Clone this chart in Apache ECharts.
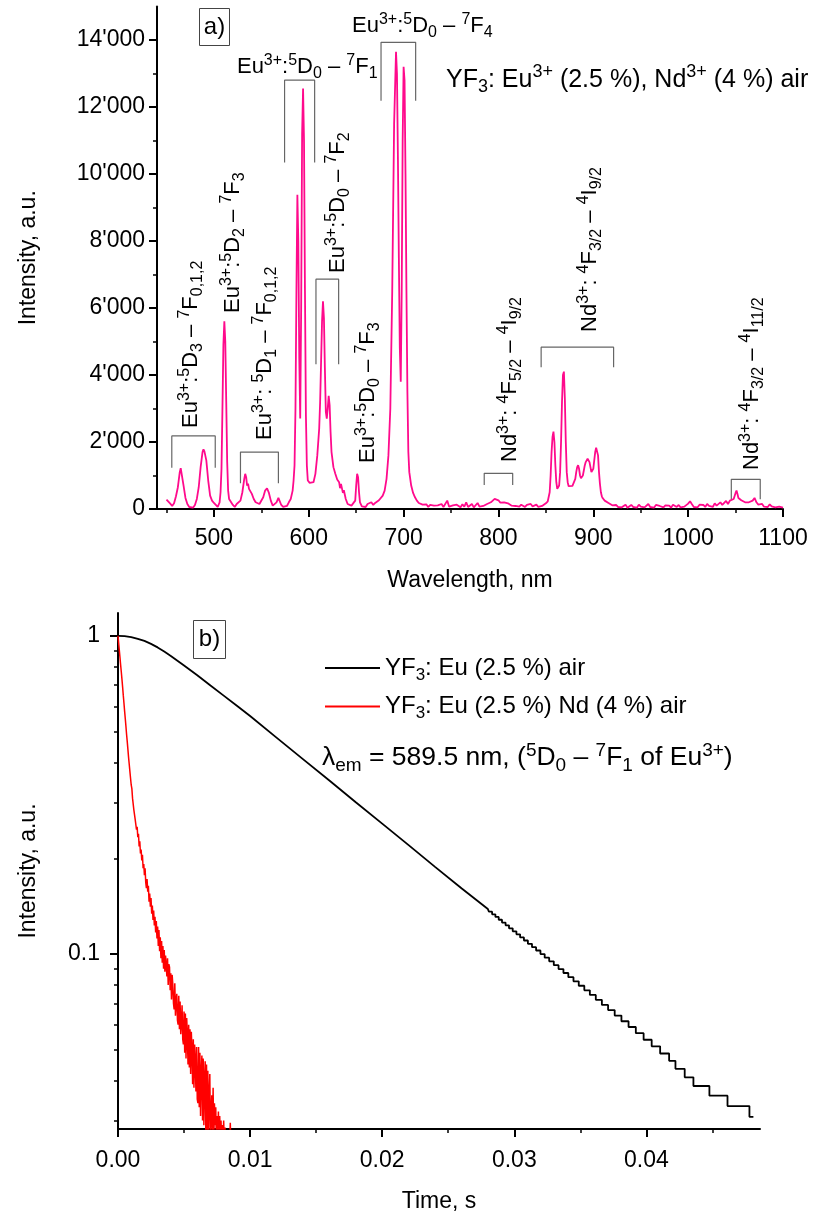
<!DOCTYPE html>
<html>
<head>
<meta charset="utf-8">
<script src="https://cdn.jsdelivr.net/npm/echarts@6/dist/echarts.min.js"></script>
<style>
  html, body { margin: 0; padding: 0; background: #fff; }
  #chart { width: 829px; height: 1219px; }
</style>
</head>
<body>
<div id="chart"></div>
<script>
// ---------- a) emission spectrum: [wavelength nm, intensity a.u.] ----------
const spectrum = [
  [450,280],[452,250],[454,160],[456,90],[458,170],[460,380],[462,650],[464,1100],[465,1220],[466,1170],
  [468,700],[470,330],[472,150],[474,60],[476,90],[478,40],[480,120],[482,300],[484,650],[486,1250],
  [488,1700],[489,1780],[490,1720],[492,1450],[494,850],[496,400],[498,250],[500,180],[502,120],[504,60],
  [505,90],[506,200],[507,500],[508,1200],[509,3000],[510,4900],[511,5600],[512,5000],[513,3200],[514,1400],
  [515,550],[516,300],[518,250],[520,120],[522,60],[524,150],[526,100],[528,250],[530,500],[532,900],
  [533,1050],[534,950],[535,700],[536,760],[537,600],[538,640],[540,450],[542,300],[544,200],[546,250],
  [548,150],[550,200],[552,350],[554,550],[556,620],[558,480],[560,250],[562,100],[564,80],[566,200],
  [568,330],[569,280],[571,120],[573,60],[575,110],[577,90],[579,200],[581,300],[583,550],[584,850],
  [585,1300],[586,3000],[587,6500],[588,9380],[589,8000],[590,4500],[591,2700],[592,6000],[593,11200],[594,12550],
  [595,11000],[596,6500],[597,2800],[598,1300],[599,850],[601,780],[603,760],[605,800],[607,1050],[609,1600],
  [611,2400],[612,3200],[613,4400],[614,5600],[615,6200],[616,5700],[617,4200],[618,2900],[619,2700],[620,3000],
  [621,3380],[622,3100],[623,2300],[624,1700],[626,1250],[628,1050],[630,880],[632,800],[633,620],[634,750],
  [636,480],[637,560],[639,300],[641,150],[643,180],[645,100],[647,80],[649,250],[650,700],[651,1050],
  [652,950],[653,500],[654,200],[656,80],[658,120],[660,60],[662,150],[664,100],[666,200],[668,120],
  [670,180],[672,220],[674,260],[676,300],[678,400],[680,550],[682,900],[684,1600],[686,3000],[688,6500],
  [690,11500],[692,13650],[693,13000],[694,10500],[695,7500],[696,4800],[697,3800],[698,6500],[699,11000],[700,13200],
  [701,12800],[702,10000],[703,6500],[704,3500],[705,1700],[706,1100],[708,700],[710,480],[712,350],[714,250],
  [716,180],[718,220],[720,130],[722,90],[724,140],[726,60],[728,120],[730,80],[732,100],[734,50],
  [736,110],[738,70],[740,150],[742,60],[744,90],[746,250],[748,70],[750,40],[752,110],[754,60],
  [756,130],[758,80],[760,50],[762,140],[764,70],[766,200],[768,60],[770,100],[772,150],[774,50],
  [776,90],[778,180],[780,70],[782,110],[784,90],[786,60],[788,150],[790,130],[792,200],[794,250],
  [796,300],[798,320],[800,260],[802,190],[804,230],[806,200],[808,150],[810,170],[812,120],[814,100],
  [816,140],[818,90],[820,110],[822,70],[824,130],[826,100],[828,60],[830,120],[832,90],[834,150],
  [836,80],[838,100],[840,130],[842,60],[844,110],[846,90],[848,140],[850,170],[852,230],[854,500],
  [855,1000],[856,1700],[857,2150],[858,2310],[859,2000],[860,1300],[861,800],[862,600],[863,580],[864,700],
  [865,1100],[866,2000],[867,3200],[868,4000],[869,4100],[870,3300],[871,2000],[872,1100],[873,800],[874,680],
  [876,660],[878,690],[880,720],[881,900],[882,1100],[883,1250],[884,1310],[885,1200],[886,1000],[887,920],
  [888,910],[889,1000],[890,1150],[891,1300],[892,1400],[893,1450],[894,1500],[895,1510],[896,1400],[897,1250],
  [898,1100],[899,1080],[900,1200],[901,1450],[902,1700],[903,1830],[904,1860],[905,1600],[906,1100],[907,750],
  [908,500],[909,380],[910,320],[912,250],[914,210],[916,180],[918,170],[920,110],[922,80],[924,120],
  [926,60],[928,100],[930,50],[932,90],[934,130],[936,40],[938,80],[940,120],[942,60],[944,100],
  [946,40],[948,130],[950,70],[952,110],[954,50],[956,90],[958,150],[960,60],[962,100],[964,40],
  [966,120],[968,70],[970,90],[972,140],[974,50],[976,110],[978,60],[980,100],[982,40],[984,130],
  [986,80],[988,60],[990,120],[992,50],[994,90],[996,70],[998,110],[1000,160],[1002,230],[1004,140],
  [1006,60],[1008,100],[1010,50],[1012,130],[1014,80],[1016,120],[1018,60],[1020,150],[1022,90],[1024,110],
  [1026,60],[1028,170],[1030,100],[1032,140],[1034,200],[1036,120],[1038,180],[1040,240],[1042,150],[1044,250],
  [1046,200],[1048,300],[1050,480],[1051,550],[1052,450],[1053,330],[1054,280],[1056,260],[1058,230],[1060,200],
  [1062,240],[1064,200],[1066,230],[1068,250],[1070,330],[1071,320],[1072,200],[1074,130],[1076,90],[1078,150],
  [1080,70],[1082,110],[1084,60],[1086,140],[1088,80],[1090,120],[1092,50],[1094,100],[1096,70],[1098,90],
  [1100,40]
];

// transition bands: [from nm, to nm, bracket foot, bracket top] in data units
const bandRanges = [
  [455.6, 501.4, 1230, 2180],
  [528.0, 568.0, 770, 1700],
  [574.5, 606.2, 10340, 12800],
  [607.6, 631.5, 4320, 6860],
  [676.2, 712.7, 12190, 13930],
  [785.0, 815.0, 720, 1065],
  [845.0, 921.4, 4230, 4830],
  [1045.5, 1076.0, 290, 885]
];

const bandLabels = [
  'Eu^{3+}:^{5}D_{3} – ^{7}F_{0,1,2}',
  'Eu^{3+}:^{5}D_{2} – ^{7}F_{3}',
  'Eu^{3+}: ^{5}D_{1} – ^{7}F_{0,1,2}',
  'Eu^{3+}:^{5}D_{0} – ^{7}F_{2}',
  'Eu^{3+}:^{5}D_{0} – ^{7}F_{3}',
  'Eu^{3+}:^{5}D_{0} – ^{7}F_{1}',
  'Eu^{3+}:^{5}D_{0} – ^{7}F_{4}',
  'Nd^{3+}: ^{4}F_{5/2} – ^{4}I_{9/2}',
  'Nd^{3+}: ^{4}F_{3/2} – ^{4}I_{9/2}',
  'Nd^{3+}: ^{4}F_{3/2} – ^{4}I_{11/2}'
];

const wavelengthTicks = [500, 600, 700, 800, 900, 1000, 1100];
const wavelengthMinor = [450, 550, 650, 750, 850, 950, 1050];
const intensityTicks = [0, 2000, 4000, 6000, 8000, 10000, 12000, 14000];
const intensityMinor = [1000, 3000, 5000, 7000, 9000, 11000, 13000];

// ---------- b) luminescence decay ----------
const euDecayT = [0, 0.0005, 0.001, 0.0015, 0.002, 0.0025, 0.003, 0.0035, 0.004, 0.005,
                  0.006, 0.007, 0.008, 0.009, 0.010, 0.012, 0.014, 0.016, 0.018, 0.020,
                  0.022, 0.024, 0.026];
const euDecayV = [1.0, 0.998, 0.991, 0.979, 0.964, 0.944, 0.920, 0.893, 0.865, 0.807,
                  0.752, 0.698, 0.649, 0.603, 0.560, 0.479, 0.410, 0.351, 0.300, 0.257,
                  0.220, 0.188, 0.161];
// digitised tail: count levels and the times at which each level ends
const euTailStart = 0.028;
const euTailLevels = [0.1385,0.1359,0.1333,0.1308,0.1282,0.1256,0.1231,0.1205,0.1179,0.1154,
                      0.1128,0.1103,0.1077,0.1051,0.1026,0.1000,0.0974,0.0949,0.0923,0.0897,
                      0.0872,0.0846,0.0821,0.0795,0.0769,0.0744,0.0718,0.0692,0.0667,0.0641,
                      0.0615,0.0590,0.0564,0.0538,0.0513,0.0487,0.0462,0.0436,0.0410,0.0385,
                      0.0359,0.0333,0.0308];
const euTailEnds = [0.02808,0.02832,0.02857,0.02882,0.02907,0.02934,0.0296,0.02988,0.03016,0.03044,
                    0.03073,0.03103,0.03134,0.03165,0.03198,0.0323,0.03264,0.03299,0.03335,0.03372,
                    0.03409,0.03448,0.03488,0.0353,0.03572,0.03617,0.03663,0.0371,0.0376,0.03811,
                    0.03865,0.0392,0.03979,0.0404,0.04104,0.04172,0.0422,0.0429,0.04356,0.04477,
                    0.04614,0.0478,0.0481];

const ndSampleStep = 0.00005;
const ndDecayV = [
  1.0,0.95,0.90,0.855,0.81,0.77,0.73,0.69,0.65,0.615,0.58,0.55,0.52,0.49,0.465,0.44,0.415,0.395,0.375,0.357,0.34,
  0.331,0.309,0.306,0.284,0.287,0.265,0.266,0.246,0.251,0.233,0.239,0.218,0.226,0.207,0.213,0.197,0.205,0.186,0.192,0.177,
  0.186,0.168,0.161,0.172,0.157,0.164,0.146,0.155,0.141,0.150,0.134,0.142,0.128,0.137,0.123,0.131,0.117,0.127,0.112,0.122,
  0.106,0.119,0.102,0.113,0.097,0.110,0.094,0.106,0.090,0.103,0.088,0.099,0.092,0.085,0.097,0.080,0.093,0.091,0.077,0.087,
  0.072,0.086,0.080,0.070,0.067,0.081,0.064,0.071,0.075,0.062,0.060,0.074,0.058,0.071,0.056,0.061,0.069,0.054,0.052,0.066,
  0.049,0.065,0.047,0.063,0.056,0.045,0.060,0.044,0.058,0.042,0.057,0.050,0.039,0.054,0.038,0.052,0.046,0.037,0.051,0.035,
  0.034,0.051,0.033,0.049,0.031,0.042,0.048,0.030,0.047,0.029,0.040,0.046,0.027,0.045,0.028,0.043,0.026,0.036,0.042,0.027,
  0.027,0.036,0.026,0.038,0.025,0.034,0.029,0.033,0.025,0.031,0.026,0.032,0.025,0.031,0.026,0.030,0.025,0.029,0.025,0.030,
  0.025,0.0285,0.025,0.027,0.025,0.026,0.025,0.0265,0.025,0.0295,0.025
];

const timeTicks = [0, 0.01, 0.02, 0.03, 0.04];
const timeMinor = [0.005, 0.015, 0.025, 0.035, 0.045];
const decayTicks = [0.1, 1];
const decayMinor = [0.03, 0.04, 0.05, 0.06, 0.07, 0.08, 0.09, 0.2, 0.3, 0.4, 0.5, 0.6, 0.7, 0.8, 0.9];

const seriesNames = ['YF_{3}: Eu (2.5 %) air', 'YF_{3}: Eu (2.5 %) Nd (4 %) air'];
const panelTags = ['a)', 'b)'];
const sampleLabel = 'YF_{3}: Eu^{3+} (2.5 %), Nd^{3+} (4 %) air';
const probeLabel = 'λ_{em} = 589.5 nm, (^{5}D_{0} – ^{7}F_{1} of Eu^{3+})';

// ---------- drawing ----------
const FONT = '"Liberation Sans", Arial, Helvetica, sans-serif';
const PINK = '#ff0a8c';

// "^{..}" -> superscript, "_{..}" -> subscript, rest normal
function rich(markup) {
  let out = '', buf = '', i = 0;
  const flush = () => { if (buf) { out += '{n|' + buf + '}'; buf = ''; } };
  while (i < markup.length) {
    const c = markup[i];
    if ((c === '^' || c === '_') && markup[i + 1] === '{') {
      flush();
      const end = markup.indexOf('}', i);
      out += '{' + (c === '^' ? 'sup' : 'sub') + '|' + markup.slice(i + 2, end) + '}';
      i = end + 1;
    } else { buf += c; i++; }
  }
  flush();
  return out;
}
function richStyles(size) {
  const small = Math.round(size * 0.72);
  const lh = Math.round(size * 1.3);
  return {
    n:   { fontSize: size,  fontFamily: FONT, color: '#000', lineHeight: lh, verticalAlign: 'middle' },
    sup: { fontSize: small, fontFamily: FONT, color: '#000', lineHeight: small, verticalAlign: 'top' },
    sub: { fontSize: small, fontFamily: FONT, color: '#000', lineHeight: small, verticalAlign: 'bottom' }
  };
}

const axisLineStyle = { color: '#000', width: 2 };
const labelStyle = { fontFamily: FONT, fontSize: 23, color: '#000' };
const nameStyle = { fontFamily: FONT, fontSize: 23, color: '#000' };

function majorAxis(o) {
  return Object.assign({
    axisLine: { show: true, onZero: false, lineStyle: axisLineStyle },
    axisTick: { show: true, length: 8, customValues: o.ticks, lineStyle: { color: '#000', width: 2 } },
    axisLabel: Object.assign({ customValues: o.ticks, showMinLabel: true, showMaxLabel: true,
                               formatter: o.fmt, margin: o.margin }, labelStyle),
    splitLine: { show: false },
    nameLocation: 'middle',
    nameTextStyle: nameStyle
  }, o.cfg);
}
function minorAxis(o) {
  return Object.assign({
    axisLine: { show: false },
    axisTick: { show: true, length: 4, customValues: o.ticks, lineStyle: { color: '#000', width: 1.5 } },
    axisLabel: { show: false },
    splitLine: { show: false }
  }, o.cfg);
}

const fmtThousands = v => v === 0 ? '0' : (v / 1000) + "'000";

// Eu decay: smooth head followed by the stepped tail
const euData = euDecayT.map((t, i) => [t, euDecayV[i]]);
euData.push([euTailStart, euTailLevels[0]]);
euTailLevels.forEach((lv, i) => {
  euData.push([euTailEnds[i], lv]);
  if (i + 1 < euTailLevels.length) euData.push([euTailEnds[i], euTailLevels[i + 1]]);
});
const ndData = ndDecayV.map((v, i) => [+(i * ndSampleStep).toFixed(5), v]);

const bracketSeries = bandRanges.map(b => ({
  type: 'line', xAxisIndex: 0, yAxisIndex: 0, silent: true, showSymbol: false, symbol: 'none',
  data: [[b[0], b[2]], [b[0], b[3]], [b[1], b[3]], [b[1], b[2]]],
  lineStyle: { color: '#666', width: 1.2 }, z: 1
}));

const option = {
  backgroundColor: '#fff',
  animation: false,
  grid: [
    { left: 157, top: 6.5, width: 626, height: 502.5 },
    { left: 118, top: 613, width: 642, height: 516 }
  ],
  xAxis: [
    majorAxis({ ticks: wavelengthTicks, margin: 18, fmt: v => String(v), cfg: {
      type: 'value', gridIndex: 0, min: 440, max: 1100, position: 'bottom',
      name: 'Wavelength, nm', nameGap: 60 } }),
    minorAxis({ ticks: wavelengthMinor, cfg: { type: 'value', gridIndex: 0, min: 440, max: 1100, position: 'bottom' } }),
    majorAxis({ ticks: timeTicks, margin: 20, fmt: v => v.toFixed(2), cfg: {
      type: 'value', gridIndex: 1, min: 0, max: 0.0486, position: 'bottom',
      name: 'Time, s', nameGap: 61 } }),
    minorAxis({ ticks: timeMinor, cfg: { type: 'value', gridIndex: 1, min: 0, max: 0.0486, position: 'bottom' } })
  ],
  yAxis: [
    majorAxis({ ticks: intensityTicks, margin: 12, fmt: fmtThousands, cfg: {
      type: 'value', gridIndex: 0, min: 0, max: 15000, position: 'left',
      name: 'Intensity, a.u.', nameGap: 117 } }),
    minorAxis({ ticks: intensityMinor, cfg: { type: 'value', gridIndex: 0, min: 0, max: 15000, position: 'left' } }),
    majorAxis({ ticks: decayTicks, margin: 18, fmt: v => String(+(+v).toPrecision(3)), cfg: {
      type: 'log', logBase: 10, gridIndex: 1, min: 0.0282, max: 1.18, position: 'left',
      name: 'Intensity, a.u.', nameGap: 78 } }),
    minorAxis({ ticks: decayMinor, cfg: { type: 'log', logBase: 10, gridIndex: 1, min: 0.0282, max: 1.18, position: 'left' } })
  ],
  legend: {
    data: seriesNames,
    orient: 'vertical',
    left: 320, top: 651,
    itemWidth: 55, itemHeight: 2, itemGap: 11,
    icon: 'rect',
    formatter: name => rich(name),
    textStyle: { rich: richStyles(24) },
    selectedMode: false
  },
  series: [
    ...bracketSeries,
    {
      type: 'line', name: 'spectrum', xAxisIndex: 0, yAxisIndex: 0, silent: true,
      showSymbol: false, symbol: 'none', data: spectrum,
      lineStyle: { color: PINK, width: 1.8 }, itemStyle: { color: PINK }, z: 3
    },
    {
      type: 'line', name: seriesNames[0], xAxisIndex: 2, yAxisIndex: 2, silent: true,
      showSymbol: false, symbol: 'none', data: euData,
      lineStyle: { color: '#000', width: 1.8 }, itemStyle: { color: '#000' }, z: 3
    },
    {
      type: 'line', name: seriesNames[1], xAxisIndex: 2, yAxisIndex: 2, silent: true,
      showSymbol: false, symbol: 'none', data: ndData,
      lineStyle: { color: '#ff0000', width: 1.5 }, itemStyle: { color: '#ff0000' }, z: 4
    }
  ]
};

const chart = echarts.init(document.getElementById('chart'), null, { renderer: 'canvas' });
chart.setOption(option);

// band labels anchored in data units (start of the text line)
const labelAnchors = [
  { at: [475.6, 2418], rot: true },
  { at: [520.4, 5851], rot: true },
  { at: [554.2, 2060], rot: true },
  { at: [631.1, 7045], rot: true },
  { at: [662.8, 1373], rot: true },
  { at: [524.3, 13194], rot: false },
  { at: [645.6, 14418], rot: false },
  { at: [812.5, 1403], rot: true },
  { at: [896.8, 5284], rot: true },
  { at: [1067.3, 1164], rot: true }
];

function textEl(x, y, markup, size, rot) {
  return {
    type: 'text', x: x, y: y, rotation: rot ? Math.PI / 2 : 0, silent: true, z: 20,
    style: { text: rich(markup), rich: richStyles(size), align: 'left', verticalAlign: 'middle' }
  };
}

const graphics = labelAnchors.map((a, i) => {
  const p = chart.convertToPixel({ xAxisIndex: 0, yAxisIndex: 0 }, a.at);
  return textEl(p[0], p[1], bandLabels[i], 22, a.rot);
});
graphics.push(textEl(446, 80, sampleLabel, 25, false));
graphics.push(textEl(322, 758, probeLabel, 26.5, false));
// panel tags
const tagBoxes = [[199, 8, 30, 37], [193, 620, 32, 38]];
tagBoxes.forEach((b, i) => {
  graphics.push({ type: 'rect', silent: true, z: 20,
    shape: { x: b[0] + 0.5, y: b[1] + 0.5, width: b[2], height: b[3] },
    style: { fill: '#fff', stroke: '#444', lineWidth: 1 } });
  graphics.push({ type: 'text', silent: true, z: 21, x: b[0] + b[2] / 2 + 0.5, y: b[1] + b[3] / 2 + 0.5,
    style: { text: panelTags[i], fontFamily: FONT, fontSize: 24, fill: '#000', align: 'center', verticalAlign: 'middle' } });
});

chart.setOption({ graphic: { elements: graphics } });
</script>
</body>
</html>
